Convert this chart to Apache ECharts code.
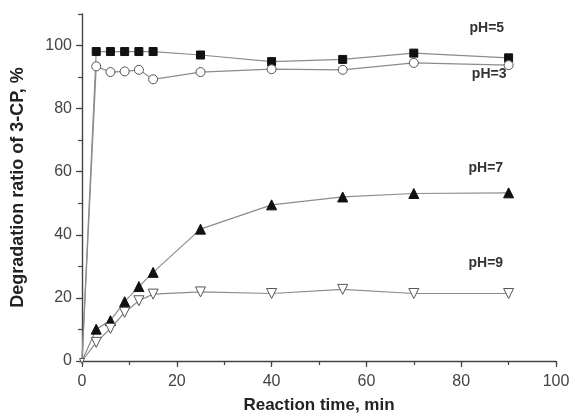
<!DOCTYPE html>
<html>
<head>
<meta charset="utf-8">
<style>html,body{margin:0;padding:0;background:#fff}#c{width:575px;height:419px}</style>
<script src="https://cdn.jsdelivr.net/npm/echarts@6/dist/echarts.min.js"></script>
</head>
<body>
<div id="c"></div>
<script>
const times = [0, 3, 6, 9, 12, 15, 25, 40, 55, 70, 90];
const pH5 = [0, 98.1, 98.1, 98.1, 98.1, 98.1, 97.0, 94.9, 95.6, 97.6, 96.1];
const pH3 = [0, 93.4, 91.6, 91.8, 92.3, 89.3, 91.6, 92.5, 92.3, 94.5, 93.8];
const pH7 = [0, 10.1, 12.8, 18.8, 23.6, 28.1, 41.8, 49.5, 52.0, 53.1, 53.3];
const pH9 = [0, 5.9, 10.3, 15.4, 19.1, 21.2, 21.9, 21.4, 22.7, 21.4, 21.4];
const xTickLabels = [0, 20, 40, 60, 80, 100];
const yTickLabels = [0, 20, 40, 60, 80, 100];
const seriesNames = ['pH=5', 'pH=3', 'pH=7', 'pH=9'];
const labelPos = [[85.4, 105.4], [85.9, 90.8], [85.2, 61.1], [85.2, 31.0]];

const FONT = 'Liberation Sans, Arial, sans-serif';
const chart = echarts.init(document.getElementById('c'));
const lineStyle = {color: '#8c8c8c', width: 1.2};
function mk(name, data, symbol, size, fill, border, rotate, idx, originSize) {
  const pts = times.map((t, i) => {
    const d = {value: [t, data[i]]};
    if (t === 0) d.symbolSize = originSize;
    return d;
  });
  return {
    name, type: 'line', data: pts, symbol, symbolSize: size, symbolRotate: rotate || 0,
    lineStyle, itemStyle: {color: fill, borderColor: border, borderWidth: 1},
    showAllSymbol: true, animation: false, z: 3,
    markPoint: {
      symbol: 'circle', symbolSize: 0, silent: true,
      data: [{coord: labelPos[idx], value: name}],
      label: {show: true, position: 'inside', formatter: name, color: '#333',
        fontFamily: FONT, fontWeight: 'bold', fontSize: 14}
    }
  };
}
const axisLineStyle = {show: true, lineStyle: {color: '#444', width: 1.4}};
chart.setOption({
  animation: false,
  backgroundColor: '#fff',
  grid: {left: 82, right: 19, top: 14, bottom: 58},
  xAxis: [{
    type: 'value', min: 0, max: 100, interval: 10,
    axisLine: axisLineStyle, axisTick: {show: true, length: 4, lineStyle: {color: '#444', width: 1.2}},
    axisLabel: {show: false}, splitLine: {show: false},
    name: 'Reaction time, min', nameLocation: 'middle', nameGap: 36,
    nameTextStyle: {fontFamily: FONT, fontWeight: 'bold', fontSize: 17, color: '#222'}
  }, {
    type: 'value', min: 0, max: 100, interval: 20, position: 'bottom',
    axisLine: {show: false}, axisTick: {show: true, length: 6, lineStyle: {color: '#444', width: 1.2}},
    axisLabel: {margin: 13, fontFamily: FONT, fontSize: 16, color: '#444',
      formatter: v => xTickLabels.includes(v) ? String(v) : ''},
    splitLine: {show: false}
  }],
  yAxis: [{
    type: 'value', min: 0, max: 110, interval: 10,
    axisLine: axisLineStyle, axisTick: {show: true, length: 4, lineStyle: {color: '#444', width: 1.2}},
    axisLabel: {show: false}, splitLine: {show: false},
    name: 'Degradation ratio of 3-CP, %', nameLocation: 'middle', nameGap: 55,
    nameTextStyle: {fontFamily: FONT, fontWeight: 'bold', fontSize: 18, color: '#222'}
  }, {
    type: 'value', min: 0, max: 110, interval: 20, position: 'left',
    axisLine: {show: false}, axisTick: {show: true, length: 6, lineStyle: {color: '#444', width: 1.2},
      customValues: yTickLabels},
    axisLabel: {margin: 10, fontFamily: FONT, fontSize: 16, color: '#444',
      customValues: yTickLabels,
      formatter: v => yTickLabels.includes(v) ? String(v) : ''},
    splitLine: {show: false}
  }],
  series: [
    mk(seriesNames[0], pH5, 'rect', 8, '#111', '#111', 0, 0, 0),
    mk(seriesNames[1], pH3, 'circle', 9, '#fff', '#555', 0, 1, 0),
    mk(seriesNames[2], pH7, 'triangle', 10, '#111', '#111', 0, 2, 0),
    mk(seriesNames[3], pH9, 'triangle', 10, '#fff', '#555', 180, 3, 5)
  ]
});
</script>
</body>
</html>
